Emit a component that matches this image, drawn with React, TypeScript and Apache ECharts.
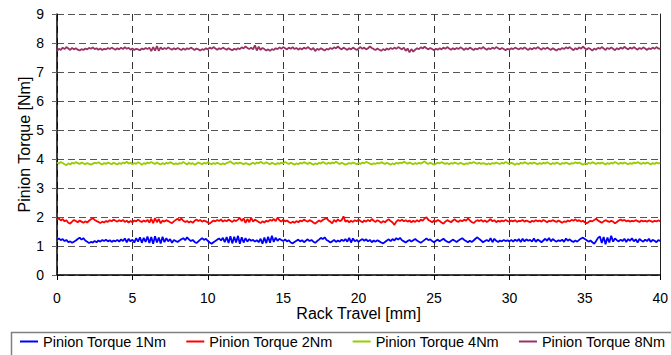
import React, { useEffect, useRef } from "react";
import * as echarts from "echarts";

// Rack travel sampled every 0.125 mm from 0 to 40 mm (8 samples per mm)
const TRAVEL_STEP = 0.125;

const xTicks = [0, 5, 10, 15, 20, 25, 30, 35, 40];
const yTicks = [0, 1, 2, 3, 4, 5, 6, 7, 8, 9];

const seriesNames = [
  "Pinion Torque 1Nm",
  "Pinion Torque 2Nm",
  "Pinion Torque 4Nm",
  "Pinion Torque 8Nm",
];

// each row below covers 2 mm of travel
const torque1Nm = [
  1.22, 1.26, 1.2, 1.24, 1.17, 1.21, 1.13, 1.16, 1.11, 1.15, 1.19, 1.24, 1.29, 1.22, 1.27, 1.19,
  1.15, 1.1, 1.14, 1.12, 1.17, 1.13, 1.19, 1.15, 1.21, 1.17, 1.22, 1.16, 1.2, 1.14, 1.19, 1.16,
  1.21, 1.15, 1.23, 1.17, 1.26, 1.13, 1.25, 1.16, 1.22, 1.12, 1.27, 1.15, 1.3, 1.11, 1.28, 1.14,
  1.33, 1.1, 1.31, 1.08, 1.34, 1.12, 1.29, 1.09, 1.32, 1.13, 1.27, 1.16, 1.24, 1.11, 1.21, 1.17,
  1.14, 1.19, 1.23, 1.27, 1.2, 1.3, 1.23, 1.17, 1.21, 1.14, 1.1, 1.16, 1.22, 1.27, 1.21, 1.25,
  1.18, 1.12, 1.08, 1.13, 1.17, 1.22, 1.26, 1.19, 1.28, 1.13, 1.31, 1.1, 1.34, 1.09, 1.32, 1.12,
  1.35, 1.08, 1.3, 1.12, 1.27, 1.15, 1.24, 1.18, 1.21, 1.15, 1.2, 1.13, 1.25, 1.08, 1.29, 1.1,
  1.32, 1.11, 1.35, 1.14, 1.29, 1.18, 1.25, 1.21, 1.17, 1.23, 1.16, 1.2, 1.12, 1.09, 1.14, 1.18,
  1.22, 1.16, 1.2, 1.13, 1.18, 1.23, 1.17, 1.21, 1.15, 1.11, 1.17, 1.22, 1.28, 1.24, 1.3, 1.21,
  1.17, 1.12, 1.16, 1.21, 1.14, 1.19, 1.15, 1.22, 1.17, 1.24, 1.15, 1.28, 1.12, 1.26, 1.16, 1.21,
  1.14, 1.2, 1.24, 1.18, 1.23, 1.16, 1.21, 1.13, 1.19, 1.15, 1.2, 1.16, 1.12, 1.09, 1.14, 1.19,
  1.23, 1.17, 1.24, 1.19, 1.27, 1.22, 1.28, 1.2, 1.16, 1.12, 1.17, 1.21, 1.15, 1.2, 1.24, 1.19,
  1.15, 1.11, 1.16, 1.21, 1.26, 1.2, 1.23, 1.17, 1.13, 1.18, 1.22, 1.16, 1.21, 1.25, 1.19, 1.15,
  1.12, 1.17, 1.22, 1.18, 1.14, 1.19, 1.23, 1.27, 1.21, 1.17, 1.13, 1.18, 1.14, 1.19, 1.25, 1.3,
  1.24, 1.19, 1.13, 1.17, 1.21, 1.16, 1.27, 1.13, 1.25, 1.18, 1.14, 1.19, 1.16, 1.21, 1.17, 1.2,
  1.16, 1.21, 1.15, 1.22, 1.17, 1.24, 1.14, 1.25, 1.16, 1.23, 1.18, 1.21, 1.15, 1.26, 1.14, 1.22,
  1.18, 1.13, 1.19, 1.25, 1.18, 1.28, 1.16, 1.24, 1.19, 1.15, 1.2, 1.17, 1.22, 1.14, 1.26, 1.18,
  1.23, 1.17, 1.14, 1.19, 1.15, 1.21, 1.26, 1.29, 1.24, 1.2, 1.15, 1.19, 1.13, 1.08, 1.17, 1.28,
  1.33, 1.1, 1.31, 1.06, 1.29, 1.12, 1.35, 1.15, 1.26, 1.2, 1.16, 1.22, 1.17, 1.25, 1.14, 1.24,
  1.18, 1.27, 1.16, 1.23, 1.12, 1.24, 1.19, 1.15, 1.22, 1.17, 1.25, 1.14, 1.21, 1.18, 1.13, 1.2,
  1.18,
];

const torque2Nm = [
  1.91, 1.95, 1.88, 1.93, 1.85, 1.89, 1.8, 1.77, 1.84, 1.9, 1.86, 1.82, 1.88, 1.84, 1.8, 1.85,
  1.81, 1.87, 1.92, 1.96, 1.9, 1.86, 1.83, 1.79, 1.84, 1.81, 1.86, 1.83, 1.89, 1.85, 1.91, 1.87,
  1.84, 1.89, 1.85, 1.9, 1.83, 1.87, 1.81, 1.86, 1.82, 1.88, 1.85, 1.91, 1.86, 1.83, 1.88, 1.84,
  1.9, 1.81, 1.94, 1.79, 1.96, 1.82, 1.93, 1.78, 1.88, 1.84, 1.89, 1.86, 1.82, 1.79, 1.85, 1.9,
  1.94, 1.88, 1.95, 1.87, 1.83, 1.86, 1.81, 1.85, 1.8, 1.87, 1.91, 1.86, 1.9, 1.84, 1.88, 1.85,
  1.81, 1.77, 1.83, 1.88, 1.85, 1.9, 1.86, 1.92, 1.84, 1.89, 1.85, 1.91, 1.87, 1.83, 1.89, 1.86,
  1.91, 1.97, 1.86, 1.95, 1.8, 1.93, 1.82, 1.98, 1.84, 1.91, 1.87, 1.83, 1.79, 1.85, 1.81, 1.87,
  1.84, 1.9, 1.87, 1.93, 1.86, 1.98, 1.89, 1.84, 1.91, 1.85, 1.88, 1.83, 1.79, 1.84, 1.8, 1.86,
  1.82, 1.88, 1.85, 1.91, 1.87, 1.84, 1.89, 1.86, 1.81, 1.77, 1.83, 1.88, 1.84, 1.9, 1.93, 1.97,
  1.88, 1.84, 1.78, 1.9, 1.83, 1.92, 1.86, 1.89, 2.02, 1.84, 1.88, 1.82, 1.87, 1.83, 1.89, 1.85,
  1.91, 1.86, 1.82, 1.88, 1.84, 1.9, 1.85, 1.93, 1.87, 1.83, 1.89, 1.85, 1.8, 1.86, 1.82, 1.88,
  1.92, 1.86, 1.81, 1.73, 1.84, 1.9, 1.86, 1.91, 1.85, 1.89, 1.84, 1.88, 1.82, 1.87, 1.83, 1.89,
  1.84, 1.91, 1.87, 1.95, 1.99, 1.9, 1.86, 1.82, 1.88, 1.84, 1.9, 1.86, 1.81, 1.77, 1.84, 1.89,
  1.86, 1.82, 1.88, 1.92, 1.86, 1.83, 1.89, 1.85, 1.91, 1.87, 1.95, 1.88, 1.83, 1.79, 1.85, 1.89,
  1.86, 1.9, 1.84, 1.88, 1.83, 1.87, 1.93, 1.85, 1.89, 1.82, 1.87, 1.84, 1.88, 1.85, 1.9, 1.86,
  1.84, 1.88, 1.85, 1.89, 1.83, 1.87, 1.86, 1.9, 1.84, 1.88, 1.85, 1.82, 1.87, 1.84, 1.89, 1.85,
  1.88, 1.84, 1.9, 1.86, 1.82, 1.87, 1.85, 1.89, 1.86, 1.83, 1.88, 1.84, 1.8, 1.85, 1.83, 1.88,
  1.85, 1.9, 1.87, 1.92, 1.86, 1.89, 1.84, 1.87, 1.82, 1.78, 1.83, 1.87, 1.85, 1.9, 1.94, 1.88,
  1.84, 1.8, 1.85, 1.89, 1.86, 1.83, 1.87, 1.84, 1.78, 1.83, 1.88, 1.91, 1.87, 1.9, 1.85, 1.88,
  1.84, 1.87, 1.85, 1.89, 1.86, 1.83, 1.88, 1.85, 1.87, 1.84, 1.88, 1.86, 1.83, 1.87, 1.85, 1.88,
  1.86,
];

const torque4Nm = [
  3.88, 3.84, 3.9, 3.86, 3.82, 3.79, 3.85, 3.81, 3.87, 3.84, 3.89, 3.86, 3.83, 3.88, 3.85, 3.82,
  3.86, 3.83, 3.8, 3.84, 3.87, 3.85, 3.89, 3.84, 3.81, 3.86, 3.83, 3.88, 3.85, 3.82, 3.87, 3.84,
  3.81, 3.86, 3.83, 3.88, 3.85, 3.91, 3.84, 3.87, 3.82, 3.86, 3.83, 3.89, 3.85, 3.8, 3.86, 3.83,
  3.88, 3.85, 3.9, 3.86, 3.83, 3.88, 3.84, 3.81, 3.86, 3.82, 3.87, 3.84, 3.89, 3.86, 3.82, 3.85,
  3.82, 3.86, 3.84, 3.9, 3.85, 3.81, 3.87, 3.83, 3.86, 3.8, 3.84, 3.88, 3.85, 3.82, 3.87, 3.84,
  3.89, 3.85, 3.82, 3.86, 3.83, 3.87, 3.84, 3.81, 3.85, 3.82, 3.86, 3.88, 3.92, 3.86, 3.83, 3.87,
  3.84, 3.88, 3.85, 3.82, 3.86, 3.84, 3.8, 3.84, 3.87, 3.83, 3.88, 3.85, 3.91, 3.86, 3.84, 3.89,
  3.85, 3.82, 3.87, 3.84, 3.81, 3.86, 3.83, 3.88, 3.85, 3.9, 3.86, 3.83, 3.87, 3.84, 3.8, 3.85,
  3.82, 3.87, 3.84, 3.89, 3.86, 3.83, 3.88, 3.84, 3.8, 3.85, 3.82, 3.87, 3.84, 3.9, 3.86, 3.83,
  3.87, 3.84, 3.88, 3.85, 3.91, 3.86, 3.83, 3.87, 3.84, 3.8, 3.83, 3.86, 3.84, 3.88, 3.85, 3.82,
  3.86, 3.83, 3.88, 3.85, 3.9, 3.87, 3.84, 3.81, 3.85, 3.83, 3.87, 3.84, 3.89, 3.86, 3.83, 3.87,
  3.84, 3.8, 3.85, 3.82, 3.87, 3.84, 3.88, 3.85, 3.91, 3.87, 3.84, 3.88, 3.85, 3.82, 3.86, 3.83,
  3.87, 3.84, 3.88, 3.92, 3.86, 3.83, 3.87, 3.84, 3.8, 3.84, 3.87, 3.85, 3.89, 3.86, 3.83, 3.86,
  3.82, 3.86, 3.84, 3.88, 3.85, 3.83, 3.87, 3.84, 3.81, 3.85, 3.83, 3.88, 3.85, 3.9, 3.86, 3.84,
  3.87, 3.83, 3.86, 3.84, 3.81, 3.85, 3.82, 3.86, 3.84, 3.88, 3.85, 3.83, 3.87, 3.84, 3.9, 3.86,
  3.83, 3.87, 3.84, 3.8, 3.85, 3.82, 3.87, 3.84, 3.89, 3.86, 3.83, 3.87, 3.84, 3.88, 3.85, 3.82,
  3.86, 3.83, 3.87, 3.84, 3.89, 3.85, 3.82, 3.86, 3.83, 3.88, 3.85, 3.81, 3.86, 3.84, 3.88, 3.85,
  3.82, 3.86, 3.84, 3.89, 3.85, 3.88, 3.84, 3.8, 3.85, 3.82, 3.87, 3.84, 3.89, 3.86, 3.83, 3.87,
  3.84, 3.88, 3.85, 3.81, 3.86, 3.83, 3.87, 3.84, 3.9, 3.86, 3.83, 3.87, 3.84, 3.88, 3.85, 3.82,
  3.86, 3.83, 3.88, 3.85, 3.89, 3.86, 3.83, 3.87, 3.84, 3.88, 3.85, 3.81, 3.86, 3.83, 3.88, 3.85,
  3.86,
];

const torque8Nm = [
  7.72, 7.8, 7.76, 7.84, 7.79, 7.86, 7.81, 7.76, 7.83, 7.78, 7.82, 7.77, 7.74, 7.79, 7.76, 7.81,
  7.78, 7.83, 7.8, 7.85, 7.79, 7.82, 7.77, 7.81, 7.76, 7.8, 7.78, 7.83, 7.79, 7.84, 7.8, 7.77,
  7.82, 7.78, 7.84, 7.79, 7.86, 7.8, 7.83, 7.77, 7.81, 7.76, 7.8, 7.78, 7.75, 7.81, 7.78, 7.83,
  7.79, 7.84, 7.72, 7.86, 7.74, 7.89, 7.73, 7.85, 7.78, 7.83, 7.79, 7.85, 7.8, 7.77, 7.82, 7.78,
  7.83, 7.79, 7.76, 7.81, 7.77, 7.82, 7.79, 7.84, 7.8, 7.76, 7.81, 7.78, 7.74, 7.79, 7.76, 7.82,
  7.78, 7.84, 7.8, 7.86, 7.81, 7.77, 7.82, 7.79, 7.84, 7.8, 7.77, 7.82, 7.78, 7.75, 7.8, 7.77,
  7.82, 7.79, 7.85, 7.81, 7.88, 7.83, 7.79, 7.84, 7.78, 7.92, 7.74, 7.87, 7.76, 7.83, 7.79, 7.74,
  7.78, 7.73, 7.79, 7.76, 7.82, 7.79, 7.85, 7.8, 7.86, 7.82, 7.78, 7.84, 7.8, 7.86, 7.79, 7.83,
  7.77, 7.82, 7.78, 7.84, 7.8, 7.86, 7.81, 7.77, 7.83, 7.72, 7.8, 7.76, 7.82, 7.78, 7.74, 7.8,
  7.77, 7.83, 7.79, 7.85, 7.81, 7.88, 7.82, 7.78, 7.84, 7.8, 7.76, 7.82, 7.78, 7.84, 7.8, 7.76,
  7.81, 7.86, 7.8, 7.84, 7.78, 7.82, 7.88, 7.83, 7.79, 7.76, 7.81, 7.77, 7.73, 7.79, 7.75, 7.81,
  7.77, 7.83, 7.79, 7.84, 7.8, 7.86, 7.82, 7.78, 7.84, 7.73, 7.81, 7.68, 7.79, 7.7, 7.77, 7.82,
  7.79, 7.85, 7.81, 7.87, 7.82, 7.78, 7.83, 7.79, 7.75, 7.8, 7.77, 7.82, 7.78, 7.84, 7.8, 7.86,
  7.81, 7.77, 7.82, 7.78, 7.83, 7.79, 7.85, 7.81, 7.76, 7.82, 7.78, 7.84, 7.8, 7.76, 7.81, 7.78,
  7.83, 7.8, 7.86, 7.81, 7.77, 7.82, 7.79, 7.84, 7.8, 7.86, 7.82, 7.78, 7.83, 7.79, 7.75, 7.8,
  7.77, 7.82, 7.79, 7.84, 7.81, 7.78, 7.83, 7.79, 7.85, 7.8, 7.76, 7.82, 7.78, 7.83, 7.8, 7.86,
  7.81, 7.77, 7.83, 7.79, 7.84, 7.8, 7.76, 7.82, 7.78, 7.74, 7.8, 7.77, 7.83, 7.79, 7.85, 7.81,
  7.86, 7.8, 7.75, 7.82, 7.78, 7.85, 7.8, 7.88, 7.82, 7.77, 7.83, 7.79, 7.74, 7.81, 7.77, 7.83,
  7.8, 7.86, 7.81, 7.76, 7.83, 7.79, 7.85, 7.8, 7.75, 7.82, 7.78, 7.84, 7.8, 7.87, 7.82, 7.78,
  7.84, 7.8, 7.86, 7.81, 7.77, 7.83, 7.79, 7.85, 7.81, 7.76, 7.82, 7.79, 7.84, 7.8, 7.86, 7.81,
  7.8,
];

const seriesValues = [torque1Nm, torque2Nm, torque4Nm, torque8Nm];
const seriesColors = ["#0000ff", "#ff0000", "#99cc00", "#993366"];

const FONT = "'Liberation Sans', Arial, sans-serif";

export default function App() {
  const ref = useRef<HTMLDivElement>(null);

  useEffect(() => {
    document.body.style.margin = "0";
    if (!ref.current) return;
    const chart = echarts.init(ref.current, undefined, { renderer: "svg" });

    const series = seriesNames.map((name, k) => ({
      name,
      type: "line" as const,
      symbol: "none",
      showSymbol: false,
      data: seriesValues[k].map((v, i) => [i * TRAVEL_STEP, v]),
      lineStyle: { color: seriesColors[k], width: 1.8 },
      itemStyle: { color: seriesColors[k] },
    }));

    chart.setOption({
      animation: false,
      backgroundColor: "#ffffff",
      textStyle: { fontFamily: FONT, color: "#000" },
      grid: { left: 57, right: 10, top: 14, bottom: 80, containLabel: false },
      xAxis: {
        type: "value",
        min: xTicks[0],
        max: xTicks[xTicks.length - 1],
        interval: 5,
        name: "Rack Travel [mm]",
        nameLocation: "middle",
        nameGap: 30,
        nameMoveOverlap: false,
        nameTextStyle: { fontSize: 16, fontFamily: FONT, color: "#000" },
        axisLine: { lineStyle: { color: "#000", width: 1.5 } },
        axisTick: { show: true, inside: false, length: 5, lineStyle: { color: "#000" } },
        axisLabel: { fontSize: 14, fontFamily: FONT, color: "#000", margin: 16 },
        splitLine: {
          show: true,
          lineStyle: { color: "#333", width: 1, type: [7, 5] },
        },
      },
      yAxis: [
        {
          type: "value",
          min: yTicks[0],
          max: yTicks[yTicks.length - 1],
          interval: 1,
          name: "Pinion Torque [Nm]",
          nameLocation: "middle",
          nameGap: 25,
          nameMoveOverlap: false,
          nameTextStyle: { fontSize: 16, fontFamily: FONT, color: "#000" },
          axisLine: { show: true, lineStyle: { color: "#000", width: 1.5 } },
          axisTick: { show: true, inside: false, length: 5, lineStyle: { color: "#666" } },
          axisLabel: { fontSize: 14, fontFamily: FONT, color: "#000", margin: 13 },
          splitLine: {
            show: true,
            lineStyle: { color: "#555", width: 1, type: [7, 4] },
          },
        },
        {
          type: "value",
          position: "right",
          min: yTicks[0],
          max: yTicks[yTicks.length - 1],
          interval: 1,
          axisLine: { show: true, lineStyle: { color: "#222", width: 1 } },
          axisTick: { show: false },
          axisLabel: { show: false },
          splitLine: { show: false },
        },
      ],
      legend: {
        left: 20,
        top: 334,
        icon: "rect",
        itemWidth: 18,
        itemHeight: 2,
        itemGap: 20,
        padding: 0,
        textStyle: { fontSize: 14.5, fontFamily: FONT, color: "#000" },
        data: seriesNames,
      },
      graphic: [
        {
          type: "rect",
          left: 9,
          top: 330,
          shape: { x: 0, y: 0, width: 680, height: 40 },
          style: { fill: "none", stroke: "#808080", lineWidth: 1.5 },
          z: -1,
        },
      ],
      series,
    });

    return () => chart.dispose();
  }, []);

  return (
    <div
      ref={ref}
      style={{ position: "absolute", left: 0, top: 0, width: 671, height: 355 }}
    />
  );
}
